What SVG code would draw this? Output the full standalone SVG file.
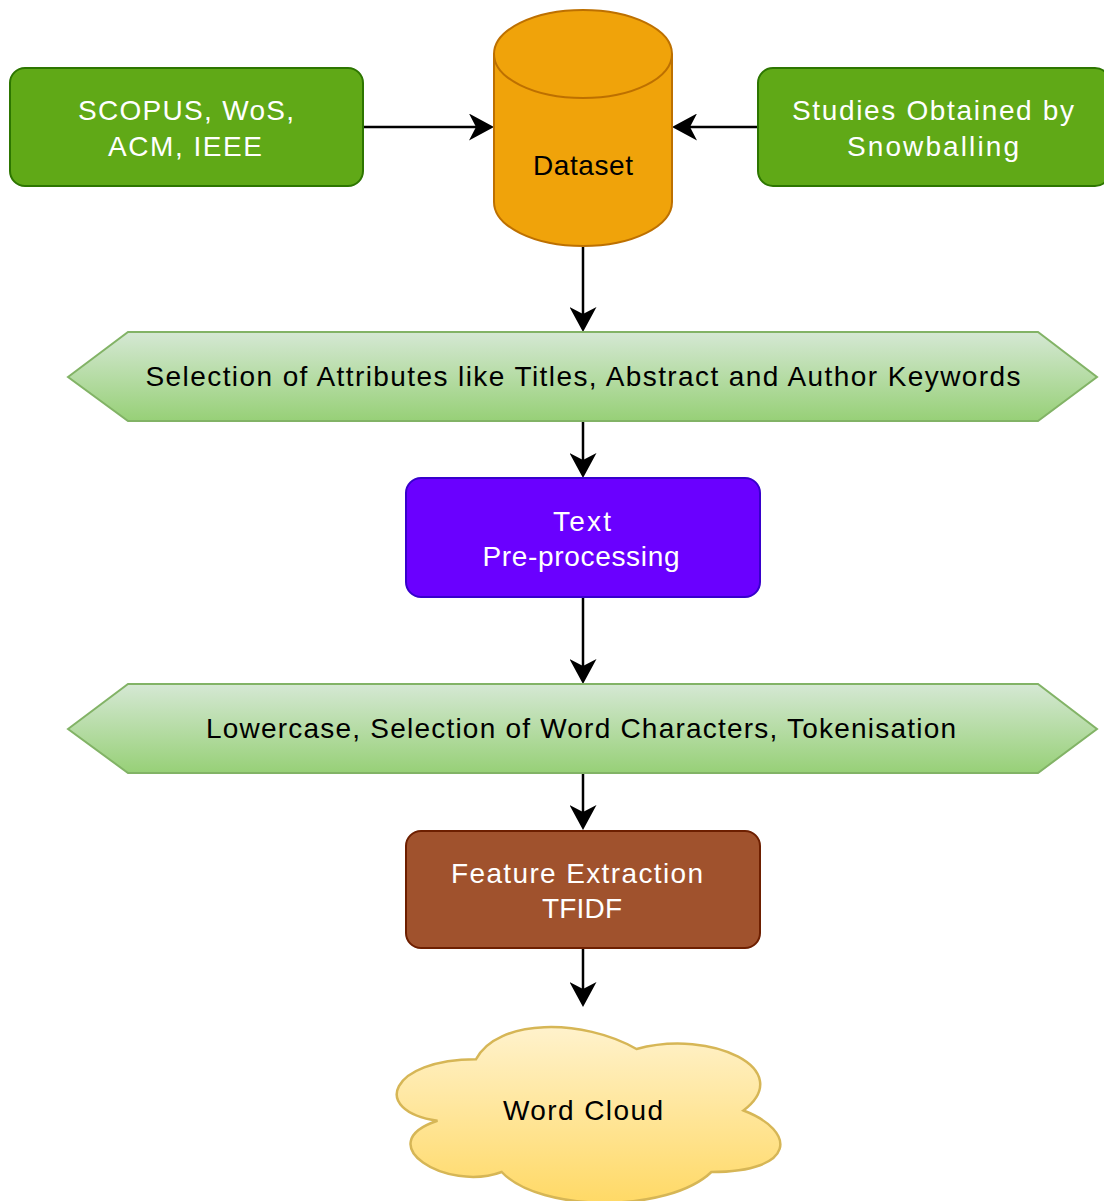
<svg xmlns="http://www.w3.org/2000/svg" width="1104" height="1201" viewBox="0 0 1104 1201">
  <defs>
    <linearGradient id="gGreen" x1="0" y1="0" x2="0" y2="1">
      <stop offset="0" stop-color="#d5e8d4"/>
      <stop offset="1" stop-color="#97d077"/>
    </linearGradient>
    <linearGradient id="gYellow" x1="0" y1="0" x2="0" y2="1">
      <stop offset="0" stop-color="#fff2cc"/>
      <stop offset="1" stop-color="#ffd966"/>
    </linearGradient>
    <marker id="arrow" viewBox="0 0 25 27" refX="7" refY="13.5" markerWidth="25" markerHeight="27" markerUnits="userSpaceOnUse" orient="auto">
      <path d="M0,0 L25,13.5 L0,27 L7,13.5 Z" fill="#000"/>
    </marker>
    <style>
      text { font-family: "Liberation Sans", Arial, sans-serif; font-size: 28px; text-anchor: middle; }
      .light { fill: #ffffff; }
      .dark { fill: #000000; }
      .src { fill: #60a917; stroke: #2d7600; stroke-width: 2; }
      .band { fill: url(#gGreen); stroke: #82b366; stroke-width: 2; }
      .edge { stroke: #000; stroke-width: 2.5; fill: none; marker-end: url(#arrow); }
    </style>
  </defs>

  <!-- connectors -->
  <g id="connectors">
    <line class="edge" x1="363" y1="127" x2="476" y2="127"/>
    <line class="edge" x1="758" y1="127" x2="690" y2="127"/>
    <line class="edge" x1="583" y1="246" x2="583" y2="314"/>
    <line class="edge" x1="583" y1="421" x2="583" y2="460"/>
    <line class="edge" x1="583" y1="597" x2="583" y2="666"/>
    <line class="edge" x1="583" y1="773" x2="583" y2="812"/>
    <line class="edge" x1="583" y1="948" x2="583" y2="989"/>
  </g>

  <!-- source databases -->
  <g id="sources">
    <rect class="src" x="10" y="68" width="353" height="118" rx="15" ry="15"/>
    <text class="light" x="186" y="120" textLength="216" lengthAdjust="spacing">SCOPUS, WoS,</text>
    <text class="light" x="185" y="156" textLength="154" lengthAdjust="spacing">ACM, IEEE</text>
  </g>

  <!-- snowballing studies -->
  <g id="snowballing">
    <rect class="src" x="758" y="68" width="352" height="118" rx="15" ry="15"/>
    <text class="light" x="933" y="120" textLength="282" lengthAdjust="spacing">Studies Obtained by</text>
    <text class="light" x="933" y="156" textLength="172" lengthAdjust="spacing">Snowballing</text>
  </g>

  <!-- dataset cylinder -->
  <g id="dataset">
    <path d="M494,54 A89,44 0 0 1 672,54 L672,202 A89,44 0 0 1 494,202 Z" fill="#f0a30a" stroke="#bd7000" stroke-width="2"/>
    <path d="M494,54 A89,44 0 0 0 672,54" fill="none" stroke="#bd7000" stroke-width="2"/>
    <text class="dark" x="583" y="175" textLength="100" lengthAdjust="spacing">Dataset</text>
  </g>

  <!-- attribute selection -->
  <g id="attributes">
    <polygon class="band" points="68,377 128,332 1038,332 1097,377 1038,421 128,421"/>
    <text class="dark" x="583" y="386" textLength="875" lengthAdjust="spacing">Selection of Attributes like Titles, Abstract and Author Keywords</text>
  </g>

  <!-- text pre-processing -->
  <g id="preprocessing">
    <rect x="406" y="478" width="354" height="119" rx="15" ry="15" fill="#6a00ff" stroke="#3700cc" stroke-width="2"/>
    <text class="light" x="582" y="531" textLength="58" lengthAdjust="spacing">Text</text>
    <text class="light" x="581" y="566" textLength="197" lengthAdjust="spacing">Pre-processing</text>
  </g>

  <!-- pre-processing steps -->
  <g id="steps">
    <polygon class="band" points="68,729 128,684 1038,684 1097,729 1038,773 128,773"/>
    <text class="dark" x="581" y="738" textLength="750" lengthAdjust="spacing">Lowercase, Selection of Word Characters, Tokenisation</text>
  </g>

  <!-- feature extraction -->
  <g id="features">
    <rect x="406" y="831" width="354" height="117" rx="15" ry="15" fill="#a0522d" stroke="#6d1f00" stroke-width="2"/>
    <text class="light" x="577" y="883" textLength="252" lengthAdjust="spacing">Feature Extraction</text>
    <text class="light" x="582" y="918" textLength="80" lengthAdjust="spacing">TFIDF</text>
  </g>

  <!-- word cloud -->
  <g id="wordcloud">
    <path d="M476,1059.25 C390.4,1059.25 369,1110.5 437.5,1120.75 C369,1143.3 446,1192.5 501.7,1172 C540.2,1213 668.6,1213 711.4,1172 C797,1172 797,1131 743.5,1110.5 C797,1069.5 711.4,1028.5 636.5,1049 C583,1018.25 497.4,1018.25 476,1059.25 Z" fill="url(#gYellow)" stroke="#d6b656" stroke-width="2.5"/>
    <text class="dark" x="583" y="1120" textLength="160" lengthAdjust="spacing">Word Cloud</text>
  </g>
</svg>
